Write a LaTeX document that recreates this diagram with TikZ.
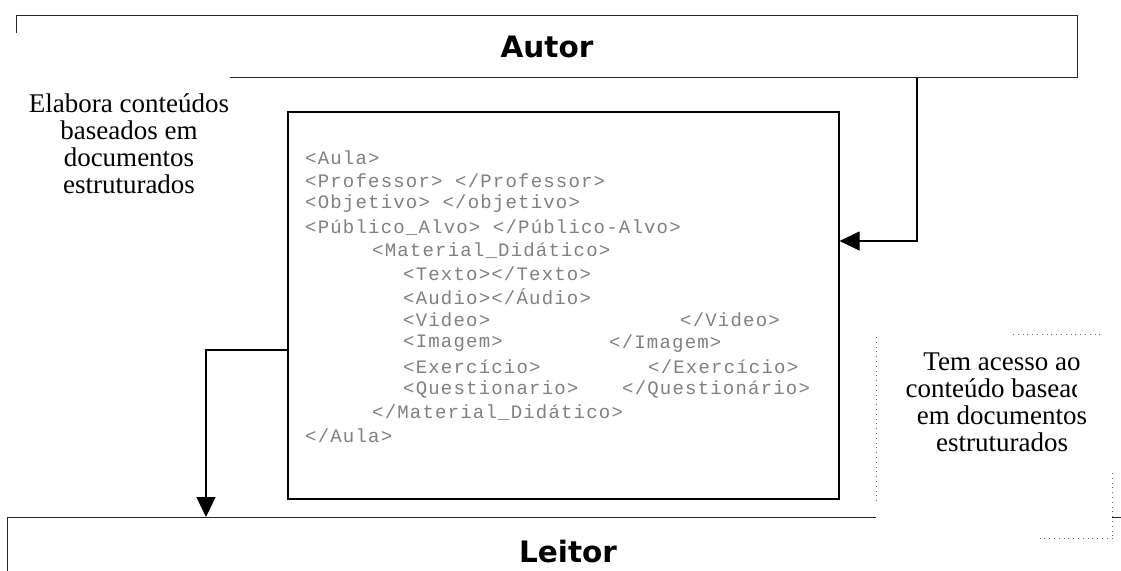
\documentclass[tikz,border=0pt]{standalone}
\usepackage{fontspec}
\usetikzlibrary{arrows.meta}
\setmainfont{Liberation Serif}
\newfontfamily\headfont{DejaVu Sans}
\newfontfamily\codefont[LetterSpace=6.3]{Liberation Mono}

\begin{document}
\begin{tikzpicture}[x=1pt,y=-1pt,
  frame/.style={draw=black!85, line width=1pt, inner sep=0pt},
  codebox/.style={draw=black, line width=1.6pt, inner sep=0pt},
  heading/.style={font=\headfont\bfseries\fontsize{29.5}{31}\selectfont, inner sep=0pt},
  note/.style={font=\fontsize{27}{27}\selectfont, align=center, inner sep=0pt},
  codetext/.style={font=\codefont\fontsize{19}{21}\selectfont, text=black!50, anchor=west, inner sep=0pt},
  link/.style={draw=black, line width=1.2pt, -{Triangle[length=20pt,width=19pt]}},
  dots/.style={draw=black!60, line width=0.8pt, dash pattern=on 0.8pt off 4pt},
  blank/.style={fill=white, draw=none, inner sep=0pt, anchor=north west}]

\useasboundingbox (0,0) rectangle (1121,570);
\clip (0,0) rectangle (1121,570);
\fill[white] (0,0) rectangle (1121,570);

% author band
\node[frame, anchor=north west, minimum width=1061pt, minimum height=62pt] (autor) at (16,15) {};
\node[heading] (autorlabel) at (autor.center) {Autor};

% reader band (runs past the lower and right edges)
\node[frame, anchor=north west, minimum width=1125pt, minimum height=80pt] (leitor) at (7,517) {};
\node[heading] (leitorlabel) at (568,551) {Leitor};

% left note, its white ground hides a corner of the author band
\node[blank, minimum width=230pt, minimum height=170pt] (leftbg) at (0,33) {};
\node[note] (elabora) at (129,144) {Elabora conteúdos\\baseados em\\documentos\\estruturados};

% structured document
\node[codebox, anchor=north west, minimum width=551pt, minimum height=387pt] (code) at (287,111) {};
\node[codetext] (l1)  at (305,157.6) {<Aula>};
\node[codetext] (l2)  at (305,180.8) {<Professor> </Professor>};
\node[codetext] (l3)  at (305,204.0) {<Objetivo> </objetivo>};
\node[codetext] (l4)  at (305,227.2) {<Público\_Alvo> </Público-Alvo>};
\node[codetext] (l5)  at (372,250.4) {<Material\_Didático>};
\node[codetext] (l6)  at (403,273.6) {<Texto></Texto>};
\node[codetext] (l7)  at (403,296.8) {<Audio></Áudio>};
\node[codetext] (l8)  at (403,320.0) {<Video>};
\node[codetext] (l8b) at (680,320.0) {</Video>};
\node[codetext] (l9)  at (403,343.2) {<Imagem>};
\node[codetext] (l9b) at (609,343.2) {</Imagem>};
\node[codetext] (l10) at (403,366.4) {<Exercício>};
\node[codetext] (l10b) at (648,366.4) {</Exercício>};
\node[codetext] (l11) at (403,389.6) {<Questionario>};
\node[codetext] (l11b) at (622,389.6) {</Questionário>};
\node[codetext] (l12) at (372,412.8) {</Material\_Didático>};
\node[codetext] (l13) at (305,436.0) {</Aula>};

% right note, its white ground hides part of the reader band
\node[blank, minimum width=236pt, minimum height=204pt] (rightbg) at (876,334) {};
\draw[dots] (rightbg.north west) ++(0,3) -- ++(0,168);
\draw[dots] (rightbg.north west) ++(137,0) -- ++(89,0);
\draw[dots] (rightbg.north east) ++(0,139) -- (rightbg.south east);
\draw[dots] (rightbg.south east) -- ++(-74,0);
\node[note] (acesso) at (1002,402) {Tem acesso ao\\conteúdo baseado\\em documentos\\estruturados};
\fill[white] (1077,377) rectangle (1105,401);

% connectors
\coordinate (bendA) at (917,241);
\coordinate (bendB) at (206,350);
\draw[link] (autor.south -| bendA) -- (bendA) -- (code.east |- bendA);
\draw[link] (code.west |- bendB) -- (bendB) -- (leitor.north -| bendB);
\end{tikzpicture}
\end{document}
